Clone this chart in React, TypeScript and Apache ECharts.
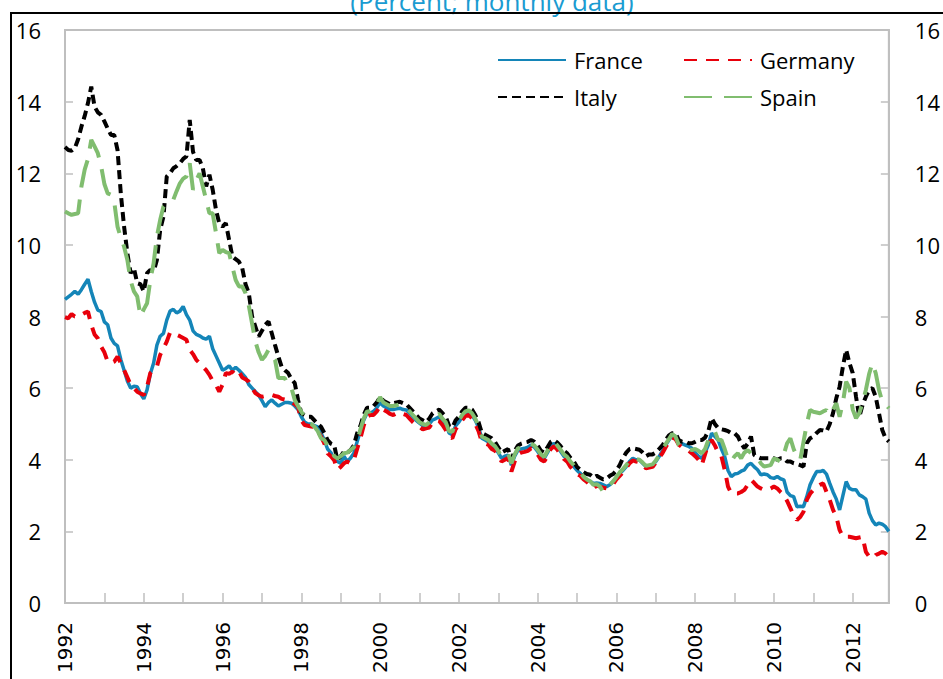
import React, { useEffect, useRef } from "react";
import * as echarts from "echarts";

const startYear = 1992;
const endYear = 2012;
const yTicks = [0, 2, 4, 6, 8, 10, 12, 14, 16];

const france = [
  8.48, 8.55, 8.62, 8.70, 8.62, 8.75, 8.90, 9.04, 8.70, 8.40, 8.18, 8.14,
  7.85, 7.77, 7.40, 7.25, 7.18, 6.80, 6.50, 6.20, 6.00, 6.05, 6.04, 5.85,
  5.70, 5.95, 6.40, 6.70, 7.20, 7.45, 7.53, 7.90, 8.15, 8.20, 8.10, 8.15,
  8.28, 8.05, 7.90, 7.60, 7.50, 7.46, 7.40, 7.37, 7.45, 7.10, 6.90, 6.70,
  6.50, 6.55, 6.62, 6.50, 6.58, 6.50, 6.40, 6.30, 6.10, 6.00, 5.90, 5.80,
  5.65, 5.48, 5.60, 5.67, 5.58, 5.50, 5.55, 5.60, 5.60, 5.58, 5.50, 5.40,
  5.20, 5.05, 5.00, 5.00, 4.95, 4.92, 4.75, 4.55, 4.30, 4.20, 4.00, 3.95,
  3.90, 4.10, 3.95, 4.05, 4.18, 4.50, 4.80, 5.10, 5.30, 5.30, 5.35, 5.45,
  5.60, 5.50, 5.45, 5.40, 5.40, 5.42, 5.44, 5.40, 5.39, 5.30, 5.20, 5.10,
  5.02, 4.95, 4.92, 5.00, 5.11, 5.15, 5.20, 5.10, 5.00, 4.75, 4.70, 4.95,
  5.05, 5.20, 5.30, 5.34, 5.25, 5.10, 4.90, 4.60, 4.55, 4.50, 4.40, 4.32,
  4.20, 4.04, 4.10, 4.13, 3.85, 4.10, 4.27, 4.30, 4.32, 4.35, 4.41, 4.35,
  4.23, 4.10, 4.04, 4.20, 4.37, 4.46, 4.35, 4.23, 4.10, 4.04, 3.90, 3.81,
  3.70, 3.62, 3.50, 3.44, 3.40, 3.34, 3.35, 3.34, 3.30, 3.25, 3.30, 3.39,
  3.50, 3.62, 3.70, 3.81, 3.95, 4.04, 4.00, 3.99, 3.90, 3.81, 3.83, 3.85,
  3.95, 4.09, 4.25, 4.41, 4.55, 4.69, 4.65, 4.51, 4.45, 4.41, 4.37, 4.32,
  4.20, 4.10, 4.04, 4.20, 4.41, 4.74, 4.65, 4.55, 4.30, 4.09, 3.70, 3.53,
  3.60, 3.62, 3.68, 3.72, 3.85, 3.90, 3.80, 3.72, 3.58, 3.60, 3.58, 3.50,
  3.48, 3.53, 3.47, 3.44, 3.10, 3.00, 2.97, 2.69, 2.70, 2.69, 2.97, 3.30,
  3.50, 3.67, 3.67, 3.70, 3.60, 3.34, 3.10, 2.90, 2.60, 3.00, 3.39, 3.20,
  3.16, 3.16, 3.02, 2.97, 2.90, 2.51, 2.30, 2.18, 2.23, 2.20, 2.13, 2.00,
];

const germany = [
  7.98, 7.95, 8.07, 8.00, 8.00, 8.05, 8.10, 8.14, 7.77, 7.50, 7.39, 7.16,
  7.00, 6.74, 6.70, 6.74, 6.88, 6.70, 6.51, 6.30, 6.09, 6.00, 5.90, 5.85,
  5.81, 6.04, 6.42, 6.50, 6.60, 6.93, 7.11, 7.30, 7.55, 7.50, 7.49, 7.45,
  7.40, 7.35, 7.07, 6.95, 6.79, 6.70, 6.60, 6.50, 6.37, 6.20, 6.09, 5.90,
  6.10, 6.42, 6.40, 6.46, 6.37, 6.46, 6.30, 6.25, 6.18, 6.00, 5.86, 5.80,
  5.76, 5.78, 5.80, 5.81, 5.78, 5.76, 5.70, 5.68, 5.65, 5.62, 5.55, 5.48,
  5.10, 4.97, 4.95, 4.93, 4.92, 4.80, 4.65, 4.46, 4.18, 4.10, 3.99, 3.72,
  3.80, 3.90, 3.95, 3.90, 3.99, 4.30, 4.60, 4.95, 5.20, 5.25, 5.25, 5.35,
  5.50, 5.40, 5.35, 5.28, 5.25, 5.30, 5.32, 5.28, 5.25, 5.15, 5.05, 4.97,
  4.92, 4.85, 4.88, 4.90, 5.05, 5.10, 5.08, 4.97, 4.83, 4.65, 4.60, 4.85,
  4.97, 5.10, 5.22, 5.25, 5.16, 5.00, 4.80, 4.50, 4.45, 4.42, 4.30, 4.25,
  4.10, 3.95, 4.00, 4.05, 3.67, 3.95, 4.15, 4.20, 4.22, 4.25, 4.32, 4.28,
  4.15, 4.00, 3.95, 4.10, 4.30, 4.38, 4.28, 4.15, 4.02, 3.95, 3.80, 3.70,
  3.60, 3.55, 3.45, 3.38, 3.30, 3.20, 3.28, 3.25, 3.22, 3.20, 3.25, 3.32,
  3.45, 3.55, 3.65, 3.78, 3.90, 3.98, 3.95, 3.93, 3.85, 3.76, 3.78, 3.80,
  3.92, 4.05, 4.18, 4.35, 4.50, 4.62, 4.58, 4.42, 4.35, 4.30, 4.25, 4.18,
  4.10, 4.00, 3.85, 4.15, 4.46, 4.55, 4.40, 4.20, 4.09, 3.72, 3.25, 3.06,
  3.06, 3.06, 3.10, 3.16, 3.30, 3.44, 3.35, 3.25, 3.20, 3.16, 3.16, 3.20,
  3.25, 3.20, 3.10, 3.02, 2.85, 2.65, 2.45, 2.32, 2.40, 2.55, 2.88, 3.05,
  3.16, 3.25, 3.30, 3.34, 3.10, 2.88, 2.60, 2.41, 2.04, 1.85, 1.85, 1.85,
  1.83, 1.81, 1.83, 1.85, 1.43, 1.30, 1.25, 1.34, 1.38, 1.43, 1.38, 1.29,
];

const italy = [
  12.73, 12.65, 12.63, 12.70, 12.95, 13.30, 13.60, 13.96, 14.42, 13.86, 13.70, 13.63,
  13.45, 13.25, 13.07, 13.07, 12.65, 11.44, 10.51, 9.77, 9.21, 9.35, 8.93, 8.90,
  8.70, 9.21, 9.30, 9.25, 9.58, 10.42, 10.79, 11.91, 12.00, 12.14, 12.20, 12.28,
  12.40, 12.47, 13.49, 12.60, 12.37, 12.37, 12.14, 11.63, 11.96, 11.54, 10.98, 10.60,
  10.51, 10.61, 10.14, 9.67, 9.60, 9.53, 9.35, 8.90, 8.65, 8.00, 7.72, 7.44,
  7.60, 7.77, 7.86, 7.53, 7.20, 6.88, 6.60, 6.50, 6.42, 6.25, 6.14, 5.67,
  5.30, 5.25, 5.20, 5.20, 5.10, 5.00, 4.92, 4.75, 4.55, 4.45, 4.41, 3.99,
  4.10, 4.23, 4.20, 4.27, 4.40, 4.74, 4.95, 5.25, 5.45, 5.45, 5.50, 5.60,
  5.75, 5.65, 5.60, 5.55, 5.58, 5.60, 5.62, 5.58, 5.55, 5.45, 5.35, 5.25,
  5.15, 5.10, 5.05, 5.15, 5.30, 5.35, 5.40, 5.30, 5.20, 4.95, 4.90, 5.10,
  5.20, 5.35, 5.45, 5.45, 5.40, 5.25, 5.05, 4.75, 4.70, 4.65, 4.60, 4.50,
  4.35, 4.20, 4.25, 4.30, 4.00, 4.25, 4.40, 4.45, 4.48, 4.50, 4.55, 4.50,
  4.40, 4.25, 4.20, 4.35, 4.50, 4.55, 4.48, 4.38, 4.25, 4.18, 4.05, 3.95,
  3.80, 3.72, 3.65, 3.60, 3.58, 3.50, 3.55, 3.50, 3.45, 3.48, 3.55, 3.60,
  3.70, 3.85, 4.05, 4.20, 4.30, 4.32, 4.30, 4.28, 4.20, 4.10, 4.15, 4.15,
  4.20, 4.30, 4.40, 4.55, 4.68, 4.74, 4.74, 4.55, 4.50, 4.51, 4.46, 4.46,
  4.50, 4.55, 4.55, 4.62, 4.80, 5.16, 5.00, 4.88, 4.85, 4.83, 4.80, 4.74,
  4.74, 4.65, 4.46, 4.32, 4.45, 4.65, 4.13, 4.08, 4.04, 4.04, 4.04, 4.04,
  4.04, 4.00, 4.04, 4.04, 3.95, 3.95, 3.90, 3.88, 3.85, 3.81, 4.46, 4.60,
  4.65, 4.75, 4.83, 4.82, 4.79, 5.00, 5.30, 5.72, 6.04, 6.60, 7.07, 6.70,
  6.42, 5.76, 5.20, 5.53, 5.76, 5.95, 6.00, 5.76, 5.30, 4.83, 4.60, 4.51,
];

const spain = [
  10.93, 10.88, 10.84, 10.86, 10.88, 11.63, 12.10, 12.40, 12.93, 12.75, 12.56, 12.20,
  11.70, 11.44, 11.40, 11.20, 10.51, 10.20, 9.95, 9.58, 9.00, 8.70, 8.56, 8.00,
  8.20, 8.37, 9.02, 9.49, 10.23, 10.70, 11.07, 11.15, 11.21, 11.26, 11.50, 11.72,
  11.85, 11.91, 12.28, 11.54, 11.80, 12.00, 11.63, 11.26, 10.88, 10.88, 10.33, 9.77,
  9.86, 9.80, 9.77, 9.39, 9.02, 8.84, 8.84, 8.65, 8.30, 7.80, 7.30, 7.00,
  6.79, 6.90, 7.07, 6.90, 6.79, 6.28, 6.28, 6.28, 6.04, 6.00, 5.67, 5.50,
  5.34, 5.20, 5.02, 5.00, 4.92, 4.80, 4.60, 4.55, 4.40, 4.37, 4.10, 4.04,
  4.10, 4.18, 4.20, 4.27, 4.35, 4.51, 4.85, 5.15, 5.35, 5.35, 5.45, 5.55,
  5.75, 5.60, 5.55, 5.50, 5.50, 5.52, 5.55, 5.48, 5.45, 5.35, 5.25, 5.15,
  5.05, 5.00, 4.97, 5.05, 5.18, 5.22, 5.28, 5.15, 5.05, 4.80, 4.78, 5.00,
  5.10, 5.25, 5.35, 5.38, 5.30, 5.15, 4.95, 4.65, 4.60, 4.55, 4.45, 4.38,
  4.25, 4.08, 4.15, 4.18, 3.90, 4.15, 4.32, 4.35, 4.38, 4.40, 4.45, 4.40,
  4.28, 4.15, 4.08, 4.25, 4.42, 4.50, 4.40, 4.28, 4.15, 4.08, 3.95, 3.85,
  3.72, 3.65, 3.52, 3.45, 3.40, 3.30, 3.32, 3.25, 3.10, 3.20, 3.30, 3.40,
  3.52, 3.65, 3.74, 3.85, 3.98, 4.07, 4.02, 4.00, 3.92, 3.83, 3.85, 3.87,
  3.98, 4.12, 4.28, 4.44, 4.58, 4.72, 4.65, 4.41, 4.35, 4.33, 4.30, 4.27,
  4.30, 4.25, 4.18, 4.30, 4.55, 4.70, 4.79, 4.55, 4.55, 4.30, 4.00, 3.95,
  4.10, 4.18, 4.04, 4.20, 4.27, 4.18, 4.12, 4.05, 3.90, 3.81, 3.83, 3.85,
  4.04, 4.00, 3.95, 4.15, 4.46, 4.60, 4.30, 4.09, 3.99, 4.50, 5.00, 5.39,
  5.34, 5.32, 5.30, 5.35, 5.39, 5.25, 5.40, 5.58, 5.20, 5.60, 6.18, 6.00,
  5.40, 5.16, 5.30, 5.60, 5.95, 6.40, 6.70, 6.42, 5.95, 5.62, 5.55, 5.44,
];

const categories: string[] = [];
for (let y = startYear; y <= endYear; y++) {
  for (let m = 1; m <= 12; m++) {
    categories.push(`${y}-${m < 10 ? "0" + m : m}`);
  }
}

const FONT = "'Open Sans', 'Noto Sans', sans-serif";
const GRAY = "#bfbfbf";

export default function App() {
  const ref = useRef<HTMLDivElement>(null);
  useEffect(() => {
    if (!ref.current) return;
    document.body.style.margin = "0";
    document.documentElement.style.overflow = "hidden";
    const chart = echarts.init(ref.current, null, { renderer: "svg", width: 943, height: 679 });
    const yAxisBase = {
      type: "value" as const,
      min: yTicks[0],
      max: yTicks[yTicks.length - 1],
      interval: 2,
      splitLine: { show: false },
      axisLine: { show: true, lineStyle: { color: GRAY, width: 2 } },
      axisTick: { show: true, inside: true, length: 8, lineStyle: { color: GRAY, width: 1.5 } },
    };
    const legendBase = {
      orient: "vertical" as const,
      top: 48,
      padding: 0,
      itemWidth: 68,
      itemHeight: 14,
      itemGap: 13,
      itemStyle: { opacity: 0 },
      textStyle: { fontFamily: FONT, fontSize: 22, color: "#000", lineHeight: 24, padding: [0, 0, 0, 3] },
    };
    chart.setOption({
      animation: false,
      backgroundColor: "#ffffff",
      grid: {
        left: 65,
        right: 48,
        top: 30,
        bottom: 76,
        show: true,
        borderColor: GRAY,
        borderWidth: 2,
        containLabel: false,
      },
      graphic: [
        {
          type: "polyline",
          shape: { points: [[11, 700], [11, 13], [960, 13]] },
          style: { fill: "none", stroke: "#000", lineWidth: 2 },
          z: 100,
        },
        {
          type: "text",
          x: 492,
          y: 14,
          style: {
            text: "(Percent; monthly data)",
            fill: "#1a9bd1",
            font: `26px ${FONT}`,
            textAlign: "center",
            textVerticalAlign: "bottom",
          },
        },
      ],
      legend: [
        { ...legendBase, data: ["France", "Italy"], left: 497 },
        { ...legendBase, data: ["Germany", "Spain"], left: 683 },
      ],
      xAxis: {
        type: "category",
        data: categories,
        boundaryGap: false,
        axisLine: { show: true, lineStyle: { color: GRAY, width: 2 } },
        axisTick: {
          show: true,
          inside: true,
          length: 10,
          interval: (i: number) => i % 12 === 0,
          lineStyle: { color: GRAY, width: 1.5 },
        },
        axisLabel: {
          interval: (i: number) => i % 24 === 0,
          rotate: 90,
          margin: 19,
          fontFamily: "'DejaVu Sans', sans-serif",
          fontSize: 20,
          color: "#000",
          formatter: (v: string) => v.slice(0, 4),
        },
        splitLine: { show: false },
      },
      yAxis: [
        {
          ...yAxisBase,
          position: "left",
          axisLabel: { margin: 24, fontFamily: FONT, fontSize: 22, color: "#000" },
        },
        {
          ...yAxisBase,
          position: "right",
          axisLabel: { margin: 26, fontFamily: FONT, fontSize: 22, color: "#000" },
        },
      ],
      series: [
        {
          name: "France",
          type: "line",
          data: france,
          symbol: "none",
          lineStyle: { color: "#1485b8", width: 3.5, type: "solid" },
          itemStyle: { color: "#1485b8" },
        },
        {
          name: "Germany",
          type: "line",
          data: germany,
          symbol: "none",
          lineStyle: { color: "#e8000b", width: 4, type: [13, 9] },
          itemStyle: { color: "#e8000b" },
        },
        {
          name: "Italy",
          type: "line",
          data: italy,
          symbol: "none",
          lineStyle: { color: "#000000", width: 4, type: [9, 5] },
          itemStyle: { color: "#000000" },
        },
        {
          name: "Spain",
          type: "line",
          data: spain,
          symbol: "none",
          lineStyle: { color: "#80bd6f", width: 4, type: [28, 12] },
          itemStyle: { color: "#80bd6f" },
        },
      ],
    });
    return () => chart.dispose();
  }, []);
  return (
    <div
      ref={ref}
      style={{ position: "fixed", left: 0, top: 0, width: 943, height: 679 }}
    />
  );
}
